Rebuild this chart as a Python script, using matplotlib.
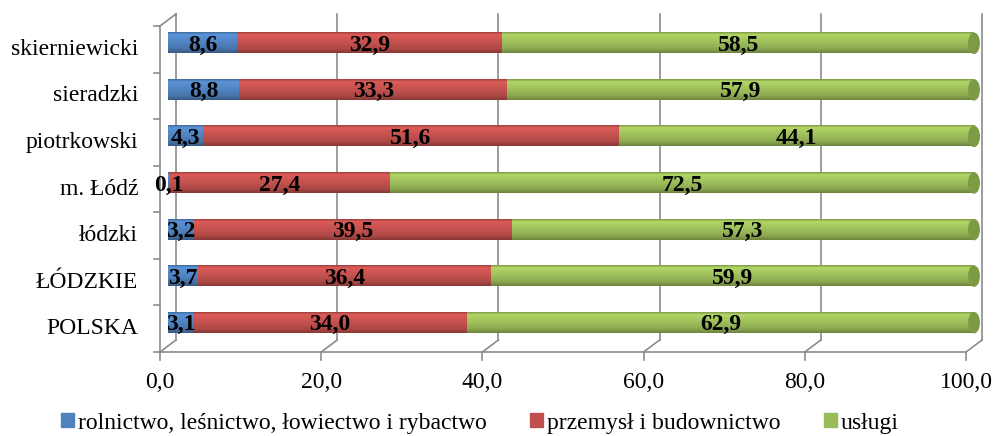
import numpy as np
import matplotlib
matplotlib.use('Agg')
import matplotlib.pyplot as plt
from matplotlib import transforms
from matplotlib.patches import Ellipse, Rectangle
from matplotlib.colors import to_rgb

plt.rcParams['font.family'] = ['Liberation Serif', 'DejaVu Serif']

# dane (kolejnosc od gory wykresu)
kategorie = ['skierniewicki', 'sieradzki', 'piotrkowski', 'm. Łódź', 'łódzki', 'ŁÓDZKIE', 'POLSKA']
rolnictwo = [8.6, 8.8, 4.3, 0.1, 3.2, 3.7, 3.1]
przemysl = [32.9, 33.3, 51.6, 27.4, 39.5, 36.4, 34.0]
uslugi = [58.5, 57.9, 44.1, 72.5, 57.3, 59.9, 62.9]
serie = ['rolnictwo, leśnictwo, łowiectwo i rybactwo', 'przemysł i budownictwo', 'usługi']
kolory = ['#4f81bd', '#c0504d', '#9bbb59']
x_ticks = [0, 20, 40, 60, 80, 100]
x_labels = ['0,0', '20,0', '40,0', '60,0', '80,0', '100,0']

W, H = 996, 436
fig = plt.figure(figsize=(W / 100, H / 100), dpi=100)
ax = fig.add_axes([168 / W, (H - 346) / H, (974 - 168) / W, (346 - 20) / H])
n = len(kategorie)
ax.set_axis_off()

def off(dx, dy):
    return ax.transData + transforms.ScaledTranslation(dx / 100, dy / 100, fig.dpi_scale_trans)

FX, FY = -8, -6   # przednia plaszczyzna
BX, BY = 8, 6     # tylna sciana
siatka = '#8c8c8c'

def gradient(kolor):
    base = np.array(to_rgb(kolor))
    pos = [0, 0.12, 0.3, 0.55, 0.8, 1]
    fac = [0.82, 1.15, 1.08, 1.0, 0.9, 0.7]
    t = np.linspace(0, 1, 60)
    f = np.interp(t, pos, fac)
    img = np.clip(base[None, :] * f[:, None], 0, 1)
    return img[:, None, :]

ax.set_xlim(0, 100)
ax.set_ylim(-0.5, n - 0.5)
ident = transforms.IdentityTransform()

def px(x, y, dx, dy):
    p = ax.transData.transform((x, y))
    return p[0] + dx, p[1] + dy

# tylna sciana - linie siatki
for x in x_ticks:
    ax.plot([x, x], [-0.5, n - 0.5], transform=off(BX, BY), color=siatka, lw=1.2, clip_on=False, zorder=1)

# przednie osie
ax.plot([0, 100], [-0.5, -0.5], transform=off(FX, FY), color=siatka, lw=1.2, clip_on=False, zorder=1)
ax.plot([0, 0], [-0.5, n - 0.5], transform=off(FX, FY), color=siatka, lw=1.2, clip_on=False, zorder=1)
for k in range(n + 1):
    x0, y0 = px(0, k - 0.5, FX, FY)
    ax.plot([x0 - 6, x0], [y0, y0], transform=ident, color=siatka, lw=1.2, clip_on=False)
for x, lab in zip(x_ticks, x_labels):
    x0, y0 = px(x, -0.5, FX, FY)
    x1, y1 = px(x, -0.5, BX, BY)
    ax.plot([x0, x0], [y0 - 8, y0], transform=ident, color=siatka, lw=1.2, clip_on=False)
    ax.plot([x0, x1], [y0, y1], transform=ident, color=siatka, lw=1.2, clip_on=False)
    ax.text(x0, y0 - 30, lab, transform=ident, ha='center', va='center', fontsize=17)
x0, y0 = px(0, n - 0.5, FX, FY)
x1, y1 = px(0, n - 0.5, BX, BY)
ax.plot([x0, x1], [y0, y1], transform=ident, color=siatka, lw=1.2, clip_on=False)

# slupki walcowe
h = 0.43
for i, kat in enumerate(kategorie):
    y = n - 1 - i
    lewo = 0
    for wart, kol in zip([rolnictwo[i], przemysl[i], uslugi[i]], kolory):
        ax.imshow(gradient(kol), extent=(lewo, lewo + wart, y - h / 2, y + h / 2),
                  aspect='auto', interpolation='bilinear', zorder=3, clip_on=False)
        ax.text(lewo + wart / 2, y, f'{wart:.1f}'.replace('.', ','), transform=off(0, -2),
                ha='center', va='center', fontsize=17, fontweight='bold', zorder=5)
        lewo += wart
    ax.add_patch(Ellipse((lewo, y), 1.3, h, color='#7d9a44', zorder=4, clip_on=False))
    ax.text(0, y, kat, transform=off(FX - 22, FY), ha='right', va='center', fontsize=17)

ax.set_xlim(0, 100)
ax.set_ylim(-0.5, n - 0.5)

uchwyty = [Rectangle((0, 0), 1, 1, color=k) for k in kolory]
fig.legend(uchwyty, serie, loc='center', bbox_to_anchor=(480 / W, 13 / H), ncol=3, frameon=False,
           fontsize=17, handlelength=0.55, handleheight=0.55, handletextpad=0.15, columnspacing=1.85)

fig.savefig('out.png', dpi=100)
